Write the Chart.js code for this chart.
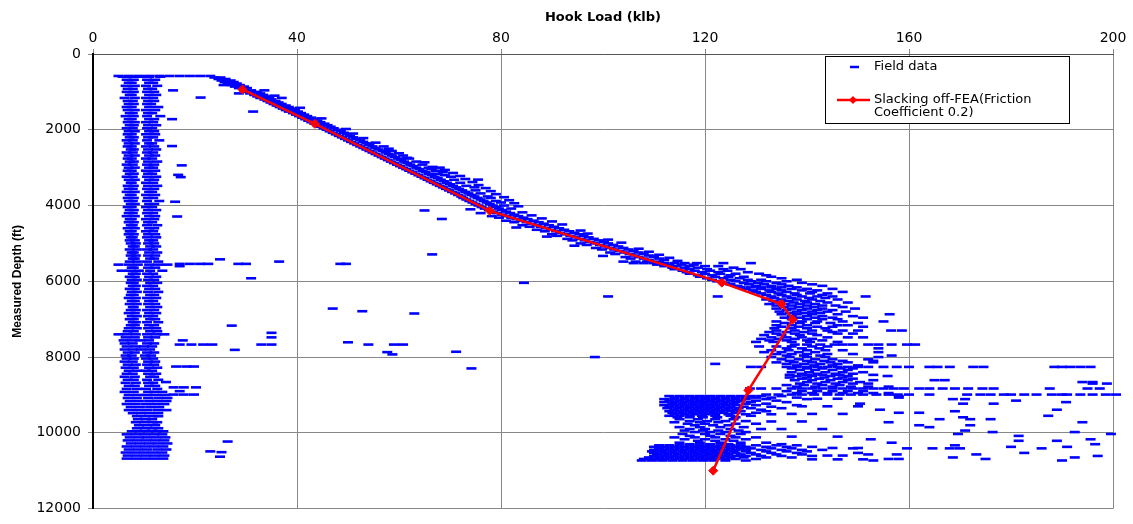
<!DOCTYPE html>
<html>
<head>
<meta charset="utf-8">
<script src="https://cdn.jsdelivr.net/npm/chart.js@4.4.1/dist/chart.umd.min.js"></script>
<style>
  html, body { margin: 0; padding: 0; background: #ffffff; }
  #wrap { width: 1133px; height: 524px; }
</style>
</head>
<body>
<div id="wrap"><canvas id="c" width="1133" height="524"></canvas></div>
<script>
// ---------- axis ticks ----------
const xTicks = [0, 40, 80, 120, 160, 200];
const yTicks = [0, 2000, 4000, 6000, 8000, 10000, 12000];

// ---------- FEA model (slacking off, friction 0.2) ----------
const feaDepth = [935, 1844, 4140, 6035, 6600, 7010, 8880, 11000];
const feaLoad  = [29.3, 43.5, 77.8, 123.3, 135.0, 137.2, 128.5, 121.6];

// ---------- field data, rows: [depth ft, hook loads klb...] ----------
const fieldTopRow = [
  [580, 5.0, 7.0, 9.0, 11.0, 13.0, 15.0, 17.0, 19.0, 21.0, 23.0]
];

const fieldBand = [
  [600, 5.8, 7.4, 9.2, 11.0, 13.2], [680, 6.6, 8.0, 10.6, 12.2], [760, 7.0, 7.6, 11.0, 11.8],
  [840, 6.4, 8.2, 10.4, 12.6], [920, 6.8, 7.8, 10.8, 11.6], [1000, 6.6, 8.0, 10.6, 12.0],
  [1080, 7.2, 7.6, 11.0, 12.4], [1160, 6.2, 8.2, 10.4, 11.8], [1240, 6.8, 7.8, 10.8, 12.0],
  [1320, 7.0, 8.0, 10.6, 11.4], [1400, 6.6, 7.6, 11.0, 12.8], [1480, 6.8, 8.2, 10.4, 12.2],
  [1560, 7.2, 7.8, 10.8, 11.6], [1640, 6.4, 8.0, 10.6, 13.2], [1720, 7.0, 7.6, 11.0, 12.0],
  [1800, 6.8, 8.2, 10.4, 11.8], [1880, 7.2, 8.0, 10.8, 12.4], [1960, 6.6, 7.8, 10.6, 11.6],
  [2040, 7.0, 8.2, 11.0, 12.0], [2120, 6.8, 7.6, 10.4, 12.2], [2200, 7.2, 8.0, 10.8, 11.8],
  [2280, 6.6, 7.8, 10.6, 13.0], [2360, 7.0, 8.2, 11.0, 11.6], [2440, 6.8, 7.6, 10.4, 12.0],
  [2520, 7.4, 8.0, 10.8, 12.4], [2600, 6.6, 7.8, 10.6, 11.8], [2680, 7.0, 8.2, 11.0, 12.2],
  [2760, 6.8, 7.6, 10.4, 11.6], [2840, 7.2, 8.0, 10.8, 12.6], [2920, 6.6, 7.8, 10.6, 12.0],
  [3000, 7.0, 8.2, 11.0, 11.8], [3080, 6.8, 7.6, 10.4, 12.2], [3160, 7.2, 8.0, 10.8, 11.6],
  [3240, 6.6, 7.8, 10.6, 12.4], [3320, 7.0, 8.2, 11.0, 12.0], [3400, 7.4, 7.6, 10.4, 11.8],
  [3480, 6.8, 8.0, 10.8, 12.6], [3560, 7.0, 7.8, 10.6, 12.0], [3640, 6.6, 8.2, 11.0, 11.6],
  [3720, 7.2, 7.6, 10.4, 12.2], [3800, 6.8, 8.0, 10.8, 11.8], [3880, 7.0, 7.8, 10.6, 13.0],
  [3960, 7.4, 8.2, 11.0, 12.0], [4040, 6.8, 7.6, 10.4, 11.6], [4120, 7.2, 8.0, 10.8, 12.4],
  [4200, 7.0, 7.8, 10.6, 11.8], [4280, 6.6, 8.2, 11.0, 12.2], [4360, 7.2, 7.6, 10.4, 12.0],
  [4440, 7.0, 8.0, 10.8, 11.6], [4520, 7.4, 7.8, 10.6, 12.6], [4600, 6.8, 8.2, 11.0, 12.0],
  [4680, 7.2, 7.6, 10.4, 11.8], [4760, 7.0, 8.0, 10.8, 12.2], [4840, 7.4, 7.8, 10.6, 12.4],
  [4920, 7.2, 8.2, 11.0, 11.8], [5000, 7.4, 8.4, 10.8, 12.0], [5080, 7.8, 8.2, 11.2, 12.4],
  [5160, 7.2, 8.6, 10.6, 11.8], [5240, 7.6, 8.0, 11.0, 12.6], [5320, 7.4, 8.4, 10.8, 12.2],
  [5400, 7.8, 8.2, 11.2, 12.0], [5480, 7.2, 8.6, 10.6, 12.8], [5560, 5.0, 7.0, 8.8, 11.0, 12.8, 14.6],
  [5640, 7.6, 8.0, 10.8, 12.2], [5720, 5.6, 7.4, 9.0, 11.2, 13.6], [5800, 7.8, 8.4, 10.6, 11.8],
  [5880, 7.2, 8.2, 11.0, 12.4], [5960, 7.6, 8.6, 10.8, 12.0], [6040, 7.4, 8.0, 11.2, 12.6],
  [6120, 7.8, 8.4, 10.6, 11.8], [6200, 7.2, 8.2, 11.0, 12.2], [6280, 7.6, 8.6, 10.8, 12.8],
  [6360, 7.4, 8.0, 11.2, 12.0], [6440, 7.0, 8.4, 10.6, 12.4], [6520, 7.6, 8.2, 11.0, 11.8],
  [6600, 7.2, 8.6, 10.8, 12.2], [6680, 7.8, 8.0, 11.2, 12.6], [6760, 7.4, 8.4, 10.6, 12.0],
  [6840, 7.0, 8.2, 11.0, 12.4], [6920, 7.6, 8.6, 10.8, 11.8], [7000, 7.2, 8.0, 11.2, 12.2],
  [7080, 7.8, 8.4, 10.6, 12.8], [7160, 7.4, 8.2, 11.0, 12.0], [7240, 7.0, 8.6, 10.8, 12.4],
  [7320, 6.8, 8.0, 11.2, 12.6], [7400, 5.0, 6.6, 8.4, 10.6, 12.4, 14.0], [7480, 6.4, 8.2, 10.8, 12.2],
  [7560, 6.0, 7.6, 9.2, 11.0], [7640, 6.2, 7.8, 10.6, 12.0], [7720, 6.6, 8.4, 10.0, 11.6],
  [7800, 6.2, 7.8, 9.4, 11.2], [7880, 6.8, 8.2, 10.6, 12.0], [7960, 6.4, 7.6, 10.2, 11.4],
  [8040, 6.6, 8.0, 10.4, 11.8], [8120, 6.2, 7.8, 10.8, 12.2], [8200, 6.8, 8.4, 10.6, 12.0],
  [8280, 6.4, 8.0, 11.0, 12.6], [8360, 7.0, 8.6, 10.4, 11.6], [8440, 6.6, 7.8, 10.8, 12.4],
  [8520, 6.2, 8.2, 11.2, 12.0], [8600, 6.8, 8.0, 10.6, 12.8], [8680, 6.4, 8.4, 10.8, 11.8],
  [8760, 7.0, 8.2, 11.0, 12.2], [8840, 6.6, 8.6, 10.4, 12.6], [8920, 6.2, 8.0, 10.8, 12.0, 13.6],
  [9000, 7.0, 8.8, 10.6, 12.4, 14.2], [9080, 6.8, 8.6, 10.8, 12.8, 14.6], [9160, 7.2, 9.0, 11.0, 12.6, 14.4],
  [9240, 6.6, 8.4, 10.4, 12.2, 14.0], [9320, 7.4, 9.2, 11.2, 13.0], [9400, 7.0, 8.8, 10.6, 12.6, 14.4],
  [9480, 7.8, 9.4, 11.0, 12.8], [9560, 8.6, 10.2, 11.8, 12.8], [9640, 8.8, 10.4, 11.6],
  [9720, 8.4, 10.0, 11.8, 12.6], [9800, 9.0, 10.6, 12.2], [9880, 8.6, 10.2, 11.6, 12.8],
  [9960, 7.6, 9.2, 10.8, 12.4, 13.8], [10040, 6.6, 8.4, 10.2, 12.0, 13.6], [10120, 7.2, 9.0, 10.6, 12.4, 14.2],
  [10200, 6.8, 8.6, 10.4, 12.2, 14.0], [10280, 7.4, 9.2, 11.0, 12.8, 14.6], [10360, 6.6, 8.4, 10.2, 12.0, 13.8],
  [10440, 7.0, 8.8, 10.6, 12.6, 14.4], [10520, 6.4, 8.2, 10.0, 11.8, 13.6], [10600, 6.8, 8.6, 10.4, 12.2, 14.0],
  [10680, 6.6, 8.4, 10.2, 12.0, 13.8]
];

const fieldOutliers = [
  [960, 15.7], [1150, 21.1], [1520, 31.4], [1720, 15.5], [2430, 15.5], [2940, 17.4],
  [3190, 16.7], [3250, 17.2], [3900, 16.1], [4290, 16.5], [4130, 65.0], [4355, 68.4], [3316, 75.5],
  [5290, 66.5], [5420, 24.9], [5480, 36.5], [5540, 17.0, 19.0, 21.0, 22.6, 28.5, 30.0, 48.5, 49.6],
  [5600, 17.0], [5920, 31.0], [6720, 47.0], [6790, 52.8], [6850, 63.0], [7170, 27.2],
  [7360, 35.0], [7480, 35.0], [7560, 17.6], [7610, 50.0],
  [7670, 17.0, 19.3, 21.6, 23.4, 33.0, 35.0, 54.0, 59.0, 60.8], [7810, 27.8], [7860, 71.2],
  [7870, 57.7], [7930, 58.7], [8000, 98.4], [8300, 74.2], [8250, 16.3, 18.3, 19.8], [8660, 14.3],
  [8800, 15.8, 17.8, 20.2], [8900, 17.0], [8990, 15.8, 17.8, 19.8], [10230, 26.4],
  [10490, 23.0], [10510, 25.2], [10630, 24.9]
];

const fieldTrend = [
  [620, 23.8, 25.0], [660, 24.6, 26.0], [700, 25.2, 27.0], [740, 25.8, 27.6], [780, 26.4, 28.2],
  [820, 27.2, 28.8, 25.6], [860, 27.8, 29.6], [900, 28.6, 30.2], [960, 29.6, 31.0, 33.6],
  [1000, 30.4, 32.2], [1040, 30.8, 32.8, 28.6], [1080, 31.6, 33.4], [1120, 32.2, 34.0],
  [1160, 32.8, 34.6, 37.0], [1200, 33.6, 35.0], [1240, 34.2, 35.8], [1280, 34.8, 36.4],
  [1320, 35.4, 37.0], [1360, 36.0, 37.8], [1400, 36.6, 38.4], [1440, 37.2, 39.0],
  [1480, 37.8, 39.6], [1520, 38.4, 40.2], [1560, 39.2, 40.8], [1600, 39.8, 41.4],
  [1640, 40.4, 42.0], [1680, 41.0, 42.8], [1720, 41.6, 43.4], [1760, 42.2, 44.0],
  [1800, 42.8, 44.6], [1840, 43.4, 45.4], [1880, 44.0, 46.0], [1920, 44.6, 46.6],
  [1960, 45.2, 47.2], [2000, 45.8, 48.0], [2040, 46.4, 48.6], [2080, 47.0, 49.2],
  [2120, 47.6, 49.8], [2160, 48.2, 50.4], [2200, 48.8, 51.0], [2240, 49.4, 51.6],
  [2280, 50.0, 52.4], [2320, 50.6, 53.0], [2360, 51.2, 53.6], [2400, 51.8, 54.2],
  [2440, 52.4, 54.8, 57.0], [2480, 53.0, 55.4], [2520, 53.6, 56.0], [2560, 54.2, 56.8, 58.6],
  [2600, 54.8, 57.4], [2640, 55.4, 58.0], [2680, 56.0, 58.6, 60.8], [2720, 56.6, 59.2],
  [2760, 57.2, 59.8, 62.0], [2800, 57.8, 60.4], [2840, 58.4, 61.0, 63.4], [2880, 59.0, 61.6],
  [2920, 59.6, 62.2, 64.6], [2960, 60.2, 62.8], [3000, 60.8, 63.4, 65.8, 68.0],
  [3040, 61.4, 64.0, 66.4], [3080, 62.0, 64.6, 67.2], [3120, 62.6, 65.2, 68.6],
  [3160, 63.2, 65.8, 67.6], [3200, 63.8, 66.4, 69.0], [3240, 64.4, 67.0, 70.2],
  [3280, 65.0, 67.6], [3320, 65.6, 68.2, 70.8], [3360, 66.2, 68.8], [3400, 66.8, 69.4, 72.0],
  [3440, 67.4, 70.0], [3480, 68.0, 70.6, 73.2], [3520, 68.6, 71.2, 74.8], [3560, 69.2, 71.8],
  [3600, 69.8, 72.4, 75.0], [3640, 70.4, 73.0], [3680, 71.0, 73.6, 76.0], [3720, 71.6, 74.2],
  [3760, 72.2, 74.8, 77.4], [3800, 72.6, 75.4, 78.0], [3840, 73.2, 76.0], [3880, 73.8, 76.6, 79.0],
  [3920, 74.4, 77.2, 80.0], [3960, 75.0, 77.8], [4000, 75.6, 78.4, 80.6], [4040, 76.2, 79.0],
  [4080, 76.8, 79.6, 82.0], [4120, 77.6, 80.2], [4160, 78.4, 81.0], [4200, 79.2, 81.8, 76.0],
  [4240, 80.2, 82.6], [4280, 81.0, 83.4, 78.2], [4320, 82.0, 84.4, 79.6], [4360, 83.0, 85.2],
  [4400, 84.0, 86.4, 81.0], [4440, 85.0, 87.4, 82.6], [4480, 86.0, 88.4], [4520, 87.0, 89.4, 84.2],
  [4560, 87.8, 90.4, 85.6], [4600, 88.8, 91.4], [4640, 89.8, 92.4, 87.0], [4680, 90.8, 93.4, 88.6],
  [4720, 91.6, 94.4], [4760, 92.6, 95.4, 90.0], [4800, 93.6, 96.2, 91.0], [4840, 94.6, 97.2],
  [4880, 95.6, 98.2, 93.0], [4920, 96.4, 99.2, 94.0], [4960, 97.4, 100.2], [5000, 98.4, 101.0, 95.6],
  [5040, 99.4, 102.0, 96.8], [5080, 100.4, 103.0], [5120, 101.4, 104.0, 98.6], [5160, 102.2, 105.0, 99.8],
  [5200, 103.2, 106.0], [5240, 104.2, 107.0, 101.4], [5280, 105.2, 108.0, 102.4], [5320, 106.2, 109.0],
  [5360, 107.0, 110.0, 104.4], [5400, 108.0, 111.0, 105.4], [5440, 109.0, 112.0], [5330, 100.0]
];

// wider scatter along the trend (readings of the ragged edge of the band)
const fieldTrendEdge = [
  [1100, 35.6], [1420, 40.6], [1700, 44.8], [1980, 49.6], [2100, 51.0], [2220, 53.0],
  [2340, 55.4], [2500, 58.0], [2620, 60.0], [2740, 61.6], [2860, 65.0], [2980, 66.6],
  [3060, 69.0], [3140, 70.6], [3220, 72.0], [3300, 73.0], [3380, 74.4], [3460, 75.6],
  [3540, 77.0], [3620, 78.0], [3700, 79.0], [3780, 80.6], [3860, 81.6], [3940, 82.6],
  [4020, 83.4], [4100, 74.0], [4180, 84.2], [4260, 86.0], [4340, 88.0], [4420, 90.0],
  [4500, 92.0], [4580, 83.0], [4660, 95.6], [4740, 97.0], [4820, 89.0], [4900, 101.0],
  [4980, 103.6], [5060, 94.4], [5140, 107.0], [5220, 109.0], [5300, 111.0], [5380, 113.0],
  [5460, 114.6]
];

const fieldScatter = [
  [5480, 104.0, 106.4, 108.6, 111.0],
  [5520, 106.0, 108.0, 110.0, 112.0, 114.0, 116.0, 118.4, 123.6, 129.0],
  [5560, 110.6, 113.0, 115.4, 117.8], [5600, 112.0, 114.4, 117.0, 120.0, 122.6],
  [5640, 113.6, 116.0, 118.6, 125.6], [5680, 114.0, 117.0, 120.4, 123.6, 127.0],
  [5720, 115.6, 118.0, 121.0, 124.4], [5760, 116.4, 119.4, 122.6, 128.4],
  [5800, 117.0, 120.0, 123.0, 126.0, 130.6], [5840, 118.6, 121.4, 125.0, 132.0],
  [5880, 119.0, 122.0, 124.6, 127.6, 133.0], [5920, 120.4, 123.6, 126.8, 135.0],
  [5960, 121.4, 125.0, 128.4, 131.0, 138.0], [6000, 122.4, 126.0, 129.0, 132.0, 136.0],
  [6040, 84.5, 124.0, 127.6, 130.4, 134.0, 139.0], [6080, 125.0, 128.6, 131.6, 135.0, 141.0],
  [6120, 126.4, 130.0, 133.0, 136.4, 143.0], [6160, 127.0, 129.0, 131.0, 133.0, 135.0, 138.0],
  [6200, 128.0, 131.0, 134.0, 137.0, 140.0, 145.0], [6240, 129.4, 132.6, 135.0, 139.0, 142.0],
  [6280, 130.0, 133.0, 136.0, 141.0, 147.0], [6320, 131.0, 134.4, 137.6, 140.6, 144.0],
  [6360, 132.0, 135.0, 138.0, 143.0], [6400, 101.0, 122.5, 133.0, 136.0, 139.0, 142.0, 145.0, 151.5],
  [6440, 133.6, 137.0, 140.4, 143.6], [6480, 132.0, 135.0, 138.0, 141.0, 146.0],
  [6520, 133.4, 136.4, 139.6, 142.6], [6560, 134.0, 137.4, 140.0, 144.0, 148.0],
  [6600, 132.6, 135.6, 138.6, 141.6], [6640, 134.0, 137.0, 140.0, 143.0, 145.6],
  [6680, 135.4, 138.4, 141.4, 147.0], [6720, 134.0, 137.0, 140.0, 143.0, 149.4],
  [6760, 136.0, 139.0, 142.0, 145.0], [6800, 134.6, 138.0, 141.0, 144.0, 147.6],
  [6840, 136.6, 139.6, 142.6], [6870, 135.0, 138.0, 141.0, 146.0, 156.2],
  [6920, 137.0, 140.0, 143.0, 149.0], [6960, 135.6, 138.6, 141.6, 145.0, 151.0],
  [7000, 137.0, 140.0, 143.0, 146.0], [7060, 134.0, 139.0, 142.0, 147.0, 155.0],
  [7100, 135.6, 138.6, 141.6, 144.6, 150.0], [7160, 134.0, 137.0, 140.0, 146.0, 148.0],
  [7200, 135.0, 138.4, 142.0, 145.0, 151.0], [7240, 133.6, 137.0, 140.0, 143.6],
  [7300, 134.0, 137.6, 141.0, 144.0, 147.0, 150.0, 156.5, 158.6], [7340, 132.6, 136.0, 139.4, 145.0],
  [7380, 134.0, 137.6, 141.0, 146.0, 149.0], [7420, 131.6, 135.0, 138.6, 142.0],
  [7480, 133.0, 136.0, 139.0, 144.0, 148.0, 151.0], [7520, 131.0, 134.4, 137.6, 141.0],
  [7560, 132.6, 136.0, 140.0, 143.0], [7600, 130.0, 133.4, 137.0, 140.6, 146.0],
  [7670, 137.6, 140.0, 142.6, 145.4, 147.0, 149.0, 152.0, 154.0, 156.6, 159.6, 161.2],
  [7720, 130.6, 134.0, 137.0, 141.0, 144.0], [7770, 136.0, 139.0, 142.4, 154.0],
  [7820, 133.0, 136.4, 140.0, 143.6, 147.0], [7870, 131.6, 135.0, 138.4, 141.6, 154.0],
  [7920, 134.0, 137.0, 140.0, 144.0, 149.0], [7960, 136.0, 139.4, 142.6, 156.6],
  [8000, 133.0, 136.6, 140.0, 143.6, 154.0], [8060, 135.0, 138.4, 141.6, 145.0, 152.0],
  [8100, 136.6, 140.0, 143.4, 147.0, 153.0], [8140, 134.0, 137.4, 141.0, 144.6, 148.0, 153.0],
  [8180, 122.0, 136.0, 139.4, 142.6, 146.0], [8220, 138.0, 141.4, 145.0, 150.0],
  [8260, 129.0, 131.0, 136.0, 138.0, 140.0, 142.0, 144.0, 146.0, 148.0, 150.0, 152.0, 155.0, 157.6, 160.0,
         164.0, 165.6, 168.0, 172.6, 174.6, 188.5, 190.0, 191.6, 193.6, 195.6],
  [8300, 137.0, 140.0, 143.0, 146.6, 149.0], [8340, 138.6, 141.6, 145.0, 148.0],
  [8400, 137.0, 140.4, 143.6, 147.0, 151.0], [8440, 139.0, 142.0, 145.6, 149.0],
  [8470, 136.6, 140.0, 143.0, 146.4, 153.0], [8500, 138.0, 141.0, 144.6, 148.0, 155.8],
  [8540, 136.6, 140.0, 143.4, 147.0], [8570, 139.0, 142.4, 146.0, 149.0],
  [8610, 137.6, 141.0, 144.6, 148.0, 153.0, 165.0, 167.0], [8660, 140.0, 143.6, 147.0, 150.4, 194.0, 196.0],
  [8700, 138.6, 142.0, 145.6, 149.0, 152.0, 196.0, 198.8], [8740, 136.0, 139.4, 143.0, 146.4],
  [8780, 138.0, 141.6, 145.0, 148.6, 152.0, 156.0],
  [8830, 128.8, 131.0, 134.0, 137.0, 139.0, 141.0, 143.0, 145.0, 147.0, 149.0, 151.0, 153.0, 155.0, 157.0,
         159.0, 162.0, 164.0, 166.6, 169.0, 171.6, 174.4, 176.6, 187.6, 195.0, 197.4],
  [8900, 136.0, 139.0, 142.0, 145.0, 148.0, 151.0], [8950, 138.0, 141.0, 144.0, 147.0, 150.0, 153.0, 156.0],
  [8990, 132.0, 134.4, 137.0, 139.0, 141.4, 144.0, 146.4, 148.6, 151.0, 153.6, 156.0, 157.8, 160.0, 164.0,
         171.4, 174.0, 176.0, 178.6, 180.0, 182.6, 185.0, 188.0, 190.0, 191.0, 193.6, 196.0, 198.6, 200.6],
  [9030, 113.0, 115.0, 117.0, 119.0, 121.0, 123.0, 125.0, 127.0, 129.0, 131.0, 135.0, 158.0],
  [9070, 114.0, 116.0, 118.0, 120.0, 122.0, 124.0, 126.0, 128.0, 130.0, 133.0, 138.0, 158.0],
  [9100, 142.0, 146.0],
  [9110, 112.0, 114.0, 116.0, 118.0, 120.0, 122.0, 124.0, 126.0, 128.0, 132.0, 140.0, 168.6, 171.0],
  [9150, 113.0, 115.0, 117.0, 119.0, 121.0, 123.0, 125.0, 127.0, 130.0, 134.0, 181.0],
  [9190, 112.0, 114.0, 116.0, 118.0, 120.0, 122.0, 124.0, 126.0, 129.0, 136.0, 190.8],
  [9230, 113.6, 115.6, 117.6, 119.6, 121.6, 123.6, 125.6, 128.0, 132.0, 150.4, 170.6, 176.6],
  [9270, 112.0, 114.0, 116.0, 118.0, 120.0, 122.0, 124.0, 126.0, 130.0, 138.0],
  [9300, 139.0, 144.0, 150.0],
  [9310, 113.0, 115.0, 117.0, 119.0, 121.0, 123.0, 125.0, 127.6, 133.0],
  [9350, 112.6, 114.6, 116.6, 118.6, 120.6, 122.6, 124.6, 126.6, 129.0, 135.0],
  [9390, 114.0, 116.0, 118.0, 120.0, 122.0, 124.0, 126.0, 131.0, 154.3, 189.0],
  [9430, 113.0, 115.0, 117.0, 119.0, 121.0, 123.0, 125.0, 127.0, 132.0, 169.0],
  [9470, 113.6, 115.6, 117.6, 119.6, 121.6, 123.6, 126.0, 130.0, 158.0, 162.0],
  [9500, 137.0, 141.0, 147.0],
  [9510, 114.0, 116.0, 118.0, 120.0, 122.0, 124.6, 128.0, 133.0],
  [9550, 113.0, 115.0, 117.0, 119.4, 122.0, 125.0, 129.0, 187.3],
  [9590, 114.6, 117.0, 119.6, 122.4, 126.0, 170.6],
  [9640, 115.0, 118.6, 122.0, 125.6, 166.0, 172.0, 176.0], [9690, 117.0, 120.4, 124.0, 128.0],
  [9700, 133.0, 139.0], [9720, 114.0, 119.0, 122.6, 156.0, 194.0], [9760, 116.6, 120.0, 126.0, 130.0],
  [9800, 118.0, 121.6, 124.6, 162.0, 172.0], [9850, 115.0, 119.0, 123.0, 127.6, 164.0],
  [9900, 117.0, 120.0, 125.0, 131.0, 135.0, 143.0], [9940, 116.0, 119.6, 122.6, 126.6, 171.0],
  [9980, 118.0, 121.0, 124.0, 128.0, 176.4, 192.5], [10030, 115.6, 120.0, 123.0, 127.0, 169.6, 199.6],
  [10080, 117.0, 121.0, 125.0, 181.5], [10100, 137.0, 146.0], [10120, 114.0, 118.0, 122.0, 126.0, 130.0],
  [10170, 116.0, 120.0, 124.0, 128.0, 152.5, 195.6], [10210, 118.6, 122.0, 125.6, 181.5, 189.0],
  [10260, 115.0, 119.0, 123.0, 127.0, 132.0, 156.6], [10300, 117.0, 121.0, 124.6, 135.0, 196.5],
  [10330, 111.0, 113.0, 115.0, 117.0, 119.0, 121.0, 123.0, 125.0, 127.0, 130.0, 134.0, 138.0, 169.0],
  [10370, 110.0, 112.0, 114.0, 116.0, 118.0, 120.0, 122.0, 124.0, 126.0, 128.0, 132.0, 136.0, 141.0, 180.0, 191.0],
  [10400, 145.0, 150.0],
  [10410, 111.0, 113.0, 115.0, 117.0, 119.0, 121.0, 123.0, 125.0, 127.0, 129.0, 133.0, 137.0, 149.0, 159.6, 164.6, 168.0, 170.0, 186.0],
  [10450, 110.0, 112.0, 114.0, 116.0, 118.0, 120.0, 122.0, 124.0, 126.0, 128.0, 131.0, 135.0, 139.0, 143.0],
  [10490, 109.6, 111.6, 113.6, 115.6, 117.6, 119.6, 121.6, 123.6, 125.6, 128.0, 132.0, 136.0, 140.0],
  [10530, 110.0, 112.0, 114.0, 116.0, 118.0, 120.0, 122.0, 124.0, 126.0, 129.0, 133.0, 138.0, 150.0, 182.6],
  [10570, 110.6, 112.6, 114.6, 116.6, 118.6, 120.6, 122.6, 124.6, 127.0, 130.0, 134.0, 139.0, 152.0, 157.6, 173.2],
  [10600, 144.0, 147.0],
  [10610, 110.0, 112.0, 114.0, 116.0, 118.0, 120.0, 122.0, 124.0, 126.0, 128.0, 131.0, 135.0, 141.0, 197.0],
  [10650, 109.0, 111.0, 113.0, 115.0, 117.0, 119.0, 121.0, 123.0, 125.0, 127.6, 132.0, 137.0, 168.6, 192.5],
  [10690, 108.0, 110.0, 112.0, 114.0, 116.0, 118.0, 120.0, 122.0, 124.0, 126.0, 130.0, 156.0, 158.0, 175.0],
  [10700, 141.0, 146.0, 151.0],
  [10730, 107.6, 109.6, 111.6, 113.6, 115.6, 117.6, 119.6, 121.6, 124.0, 128.0, 153.0, 190.0]
];

// ---------- build point tables ----------
function rowsToPoints(rows) {
  const pts = [];
  rows.forEach(r => { for (let i = 1; i < r.length; i++) pts.push({ x: r[i], y: r[0] }); });
  return pts;
}
const fieldPoints = [].concat(
  rowsToPoints(fieldTopRow), rowsToPoints(fieldBand), rowsToPoints(fieldOutliers),
  rowsToPoints(fieldTrend), rowsToPoints(fieldTrendEdge), rowsToPoints(fieldScatter)
);
const feaPoints = feaDepth.map((d, i) => ({ x: feaLoad[i], y: d }));

// ---------- legend drawn inside the plot ----------
const boxLegend = {
  id: 'boxLegend',
  afterDraw(chart) {
    const ctx = chart.ctx;
    const ds = chart.data.datasets;
    ctx.save();
    const bx = 825.5, by = 56.5, bw = 244, bh = 67;
    ctx.fillStyle = '#ffffff';
    ctx.fillRect(bx, by, bw, bh);
    ctx.strokeStyle = '#000000';
    ctx.lineWidth = 1;
    ctx.strokeRect(bx, by, bw, bh);
    // field data sample
    ctx.strokeStyle = ds[1].borderColor;
    ctx.lineWidth = 2.5;
    ctx.beginPath(); ctx.moveTo(850, 67); ctx.lineTo(859, 67); ctx.stroke();
    // FEA sample
    ctx.strokeStyle = ds[0].borderColor;
    ctx.lineWidth = 2.5;
    ctx.beginPath(); ctx.moveTo(837, 100); ctx.lineTo(870, 100); ctx.stroke();
    ctx.fillStyle = ds[0].borderColor;
    ctx.beginPath();
    ctx.moveTo(853, 96); ctx.lineTo(857, 100); ctx.lineTo(853, 104); ctx.lineTo(849, 100); ctx.closePath();
    ctx.fill();
    // texts
    ctx.fillStyle = '#000000';
    ctx.font = '13px "DejaVu Sans"';
    ctx.textBaseline = 'middle';
    ctx.textAlign = 'left';
    ctx.fillText(ds[1].label, 874, 67);
    const parts = ds[0].label.split('\n');
    ctx.fillText(parts[0], 874, 100);
    ctx.fillText(parts[1], 874, 113);
    ctx.restore();
  }
};

Chart.defaults.font.family = '"DejaVu Sans", sans-serif';
Chart.defaults.color = '#000000';

new Chart(document.getElementById('c'), {
  type: 'scatter',
  data: {
    datasets: [
      {
        label: 'Slacking off-FEA(Friction\nCoefficient 0.2)',
        data: feaPoints,
        showLine: true,
        borderColor: '#ff0000',
        backgroundColor: '#ff0000',
        borderWidth: 2.5,
        pointStyle: 'rectRot',
        pointRadius: 4.5,
        pointBorderWidth: 1,
        pointBackgroundColor: '#ff0000',
        pointBorderColor: '#ff0000',
        order: 0
      },
      {
        label: 'Field data',
        data: fieldPoints,
        showLine: false,
        borderColor: '#0000ff',
        backgroundColor: '#0000ff',
        pointStyle: 'line',
        pointRadius: 5,
        pointBorderWidth: 2.6,
        pointHoverRadius: 5,
        clip: false,
        order: 1
      }
    ]
  },
  options: {
    responsive: false,
    animation: false,
    devicePixelRatio: 1,
    events: [],
    layout: { padding: { left: 0, right: 20, top: 0, bottom: 8 } },
    plugins: { legend: { display: false }, tooltip: { enabled: false } },
    scales: {
      x: {
        type: 'linear', position: 'top', min: 0, max: 200,
        afterBuildTicks: s => { s.ticks = xTicks.map(v => ({ value: v })); },
        afterFit: s => { s.height = 54; },
        ticks: { font: { size: 14, family: '"DejaVu Sans"' }, color: '#000', padding: 2, maxRotation: 0 },
        grid: { color: '#888888', lineWidth: 1, tickLength: 5, tickColor: '#888888' },
        border: { color: '#555555', width: 1 },
        title: { display: true, text: 'Hook Load (klb)', color: '#000',
                 font: { size: 13, weight: 'bold', family: '"DejaVu Sans"' }, padding: { top: 10, bottom: 0 } }
      },
      y: {
        type: 'linear', reverse: true, min: 0, max: 12000,
        afterBuildTicks: s => { s.ticks = yTicks.map(v => ({ value: v })); },
        afterFit: s => { s.width = 93; },
        ticks: { font: { size: 14, family: '"DejaVu Sans"' }, color: '#000', padding: 7,
                 callback: v => String(v) },
        grid: { color: '#888888', lineWidth: 1, tickLength: 5, tickColor: '#888888' },
        border: { color: '#000000', width: 2 },
        title: { display: true, text: 'Measured Depth (ft)', color: '#000',
                 font: { size: 12, weight: 'bold', family: '"Liberation Sans"' }, padding: { top: 10, bottom: 0 } }
      }
    }
  },
  plugins: [boxLegend]
});
</script>
</body>
</html>
